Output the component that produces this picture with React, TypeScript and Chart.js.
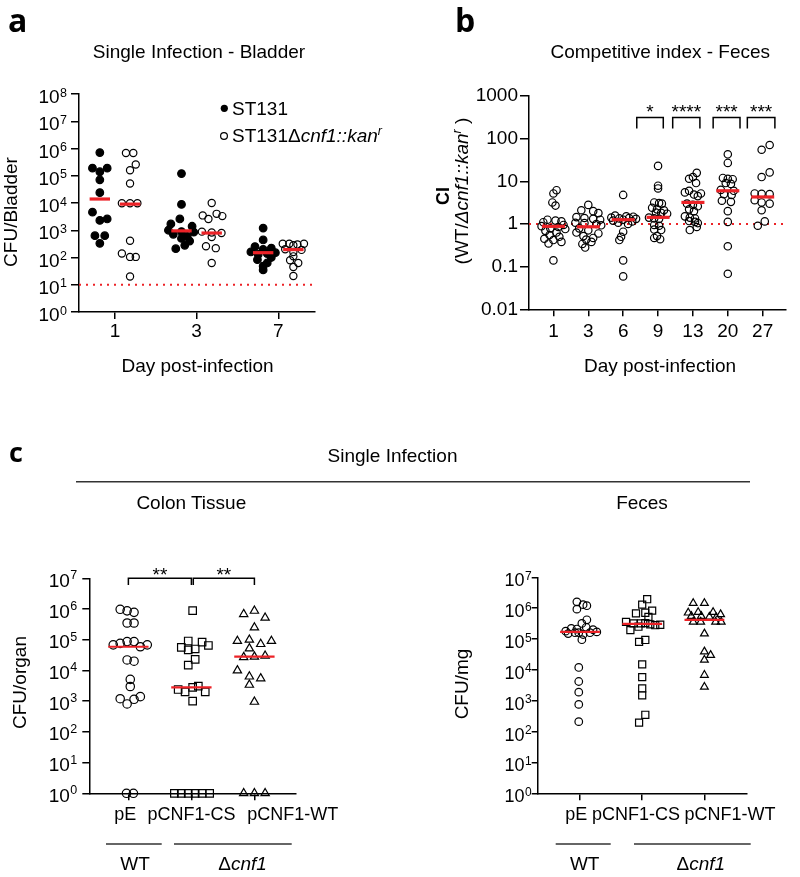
import React, { useEffect, useRef } from 'react';
import { Chart, registerables } from 'chart.js';
Chart.register(...registerables);

const FONT = "'Liberation Sans', Arial, Helvetica, sans-serif";
const RED = '#ec2227';

// ---------------- Panel a : Single Infection - Bladder ----------------
const aDayLabels = ['1', '3', '7'];
const aST131Day1 = [7.1e5, 1.9e5, 1.9e5, 1.4e5, 7.1e4, 2.4e4, 4.6e3, 2.6e3, 2.3e3, 630, 630, 330];
const aST131Day1Jit = [0, -0.09, 0.09, 0, 0, 0, -0.09, 0.09, 0, -0.06, 0.06, 0];
const aST131Day3 = [1.2e5, 8.9e3, 2.6e3, 1.7e3, 1.4e3, 1000, 890, 850, 710, 600, 500, 400, 280, 210];
const aST131Day3Jit = [0, 0, -0.02, -0.13, 0.13, -0.16, 0, 0.15, -0.1, 0.07, 0, 0.1, 0.04, -0.07];
const aST131Day7 = [1200, 440, 250, 220, 200, 160, 150, 140, 130, 100, 83, 63, 48, 35];
const aST131Day7Jit = [0, 0, -0.1, 0.1, 0, -0.15, 0.15, 0.05, -0.06, 0.1, -0.07, 0.05, 0, 0];
const aMutDay1 = [6.8e5, 6.8e5, 2.6e5, 1.6e5, 5.2e4, 9.8e3, 9.8e3, 9.8e3, 410, 140, 105, 105, 20];
const aMutDay1Jit = [-0.05, 0.04, 0.07, 0, 0, -0.1, 0, 0.09, 0, -0.1, 0, 0.07, 0];
const aMutDay3 = [1e4, 4e3, 3.5e3, 3.3e3, 2.6e3, 890, 830, 790, 560, 260, 220, 63];
const aMutDay3Jit = [0, 0.06, -0.11, 0.13, -0.04, -0.12, 0, 0.12, 0, -0.07, 0.05, 0];
const aMutDay7 = [320, 320, 300, 320, 280, 200, 190, 160, 110, 79, 63, 45, 21];
const aMutDay7Jit = [-0.13, -0.05, 0.05, 0.13, 0, -0.1, 0.1, 0, 0, -0.04, 0.06, 0, 0];
const aST131Medians = [1.4e4, 950, 150];
const aMutMedians = [9.1e3, 790, 195];
const aDetectionLimit = 10;

// ---------------- Panel b : Competitive index - Feces ----------------
const bDayLabels = ['1', '3', '6', '9', '13', '20', '27'];
const bYTickLabels = ['0.01', '0.1', '1', '10', '100', '1000'];
const bDay1 = [6.2, 5.2, 3.2, 2.7, 1.26, 1.2, 1.15, 1.1, 0.95, 0.89, 0.85, 0.79, 0.76, 0.69, 0.63, 0.55, 0.5, 0.45, 0.42, 0.38, 0.35, 0.14];
const bDay1Jit = [0.09, 0, -0.03, 0.06, -0.17, 0.06, 0.23, -0.29, 0.29, -0.34, 0.14, -0.09, 0.34, -0.23, 0.09, -0.11, 0.17, -0.26, 0, 0.23, -0.14, 0];
const bDay3 = [2.8, 2.1, 2.0, 1.8, 1.45, 1.38, 1.32, 1.26, 1.07, 1.05, 1.0, 0.93, 0.79, 0.71, 0.63, 0.6, 0.52, 0.47, 0.43, 0.38, 0.34, 0.28];
const bDay3Jit = [0, -0.2, 0.14, 0.29, -0.34, -0.11, 0.14, 0.34, -0.37, -0.11, 0.23, 0.37, -0.26, 0, -0.34, 0.29, -0.14, 0.14, -0.06, 0.09, -0.17, -0.09];
const bDay6 = [4.8, 1.58, 1.51, 1.48, 1.41, 1.38, 1.35, 1.32, 1.26, 1.2, 1.15, 1.07, 1.0, 0.66, 0.5, 0.42, 0.14, 0.059];
const bDay6Jit = [0, -0.23, 0.09, 0.29, -0.34, 0.17, -0.11, 0.37, 0, -0.29, 0.26, -0.14, 0.14, 0, -0.06, -0.11, 0, 0];
const bDay9 = [23, 7.9, 6.8, 3.2, 3.1, 3.0, 2.4, 2.2, 2.1, 1.86, 1.82, 1.74, 1.41, 1.35, 1.32, 0.95, 0.91, 0.74, 0.72, 0.52, 0.47, 0.44];
const bDay9Jit = [0, 0, 0, -0.11, 0.03, 0.11, -0.17, -0.03, 0.17, -0.06, 0.09, 0.26, -0.26, -0.11, 0.03, -0.11, 0.03, -0.11, 0.09, -0.03, -0.11, 0.06];
const bDay13 = [15.8, 12.6, 11.5, 9.1, 6.0, 5.5, 5.2, 4.9, 4.5, 3.0, 2.8, 2.6, 2.2, 2.0, 1.51, 1.41, 1.35, 1.17, 1.12, 1.05, 0.85, 0.72];
const bDay13Jit = [0.11, 0, -0.11, 0.09, -0.11, -0.23, 0.23, 0.03, 0.14, -0.17, 0, 0.14, -0.11, 0.03, -0.23, -0.09, 0.06, -0.11, 0.06, 0.14, 0.11, -0.09];
const bDay20 = [43, 27, 12, 11.5, 11.2, 9.1, 8.7, 6.3, 6.0, 5.0, 4.8, 3.5, 3.3, 2.0, 1.12, 0.3, 0.068];
const bDay20Jit = [0, 0, -0.14, 0, 0.14, -0.06, 0.09, -0.2, 0.17, -0.11, 0.11, -0.17, 0.09, 0, 0, 0, 0];
const bDay27 = [71, 55, 16.2, 12.6, 5.2, 5.1, 5.0, 3.6, 3.2, 3.0, 2.1, 1.15, 0.91];
const bDay27Jit = [0.2, -0.03, 0.2, -0.03, -0.23, -0.03, 0.2, -0.23, -0.03, 0.2, -0.03, 0.06, -0.14];
const bMedians = [0.88, 0.86, 1.26, 1.43, 3.2, 6.0, 4.3];
const bSigLabels = ['*', '****', '***', '***'];
const bSigFrom = [2.39, 3.42, 4.58, 5.56];
const bSigTo = [3.15, 4.2, 5.35, 6.35];
const bSigTop = 313;
const bSigLeg = 173;
const bNeutral = 1;

// ---------------- Panel c : Single Infection ----------------
const cGroupLabels = ['pE', 'pCNF1-CS', 'pCNF1-WT'];
// Colon tissue (CFU/organ)
const colonPE = [9.8e5, 8.7e5, 7.8e5, 3.5e5, 3.5e5, 6.8e4, 7.6e4, 8.7e4, 8.7e4, 5.9e4, 6.8e4, 2.2e4, 2.0e4, 5.1e3, 3.0e3, 1.2e3, 810, 1.15e3, 1.4e3, 1, 1];
const colonPEJit = [-0.13, -0.02, 0.09, -0.02, 0.09, -0.24, -0.13, -0.02, 0.09, 0.19, 0.3, -0.02, 0.09, 0.03, 0.03, -0.13, -0.02, 0.09, 0.19, -0.03, 0.08];
const colonCS = [8.9e5, 9.1e4, 8.3e4, 6.5e4, 5.6e4, 4.7e4, 5.0e4, 2.3e4, 1.5e4, 2.4e3, 2.0e3, 2.8e3, 3.1e3, 2.0e3, 1.0e3, 1, 1, 1, 1, 1, 1];
const colonCSJit = [0.02, -0.05, 0.17, 0.27, -0.16, -0.05, 0.06, 0.06, -0.05, -0.21, -0.1, 0.02, 0.11, 0.22, 0.02, -0.27, -0.16, -0.05, 0.06, 0.17, 0.29];
const colonWT = [6.8e5, 8.7e5, 5.2e5, 2.5e5, 9.1e4, 1.0e5, 7.2e4, 9.1e4, 5.2e4, 2.7e4, 2.8e4, 3.0e4, 1.0e4, 6.3e3, 5.5e3, 3.4e3, 950, 1, 1, 1];
const colonWTJit = [-0.17, 0, 0.17, 0, -0.27, -0.08, 0.1, 0.27, -0.08, -0.17, 0, 0.17, -0.27, -0.08, 0.1, -0.08, 0, -0.17, 0, 0.17];
const colonMedians = [5.9e4, 2.8e3, 2.8e4];
// Feces (CFU/mg)
const fecesPE = [1.6e6, 1.3e6, 1.2e6, 9.3e5, 4.2e5, 3.2e5, 2.4e5, 2.1e5, 2.2e5, 2.0e5, 1.8e5, 1.6e5, 1.4e5, 1.6e5, 1.7e5, 1.5e5, 1.6e5, 9.5e4, 1.2e4, 4.2e3, 1.9e3, 760, 210];
const fecesPEJit = [-0.05, 0.05, 0.11, -0.05, 0.11, 0.03, 0.1, -0.05, -0.14, 0.21, -0.23, -0.08, 0.05, 0.16, 0.27, -0.19, -0.02, 0.03, -0.02, -0.02, -0.02, -0.02, -0.02];
const fecesCS = [1.95e6, 1.3e6, 8.3e5, 7.1e5, 6.8e5, 5.2e5, 3.6e5, 3.2e5, 3.2e5, 3.0e5, 2.9e5, 3.3e5, 2.8e5, 1.95e5, 2.5e5, 9.3e4, 8.1e4, 1.5e4, 5.8e3, 2.5e3, 1.5e3, 350, 195];
const fecesCSJit = [0.08, 0, 0.16, 0.05, -0.1, 0.1, -0.26, -0.14, -0.02, 0.13, 0.29, 0.05, 0.21, -0.19, -0.06, 0.05, -0.05, 0, 0, 0, 0, 0.05, -0.05];
const fecesWT = [1.45e6, 1.45e6, 7.1e5, 7.4e5, 7.4e5, 6.3e5, 5.5e5, 5.5e5, 5.2e5, 5.0e5, 3.6e5, 3.6e5, 3.6e5, 3.6e5, 1.5e5, 3.9e4, 3.0e4, 2.1e4, 6.8e3, 2.8e3];
const fecesWTJit = [-0.18, 0, -0.26, -0.1, 0.14, 0.26, -0.21, -0.05, 0.08, 0.19, -0.18, -0.06, 0.18, 0.27, 0, 0, 0.1, 0, 0, 0];
const fecesMedians = [1.7e5, 3.1e5, 4.2e5];

// ---------------- plugins ----------------
const powTicks = {
  id: 'powTicks',
  afterDraw(chart: any, _a: any, o: any) {
    if (!o || !o.enabled) return;
    const ctx = chart.ctx;
    const ys = chart.scales.y;
    const ax = chart.chartArea.left;
    ctx.save();
    ctx.fillStyle = '#000';
    ctx.textAlign = 'right';
    ctx.textBaseline = 'alphabetic';
    for (let k = o.minExp; k <= o.maxExp; k++) {
      const py = ys.getPixelForValue(Math.pow(10, k));
      ctx.font = `${o.expSize}px ${FONT}`;
      const e = String(k);
      const ew = ctx.measureText(e).width;
      ctx.fillText(e, ax - o.gap, py + o.expDy);
      ctx.font = `${o.baseSize}px ${FONT}`;
      ctx.fillText('10', ax - o.gap - ew - 0.5, py + o.baseDy);
    }
    ctx.restore();
  },
};

const brackets = {
  id: 'brackets',
  afterDraw(chart: any, _a: any, o: any) {
    if (!o || !o.items) return;
    const ctx = chart.ctx;
    const xs = chart.scales.x;
    const ys = chart.scales.y;
    ctx.save();
    ctx.strokeStyle = '#000';
    ctx.fillStyle = '#000';
    ctx.lineWidth = 1.5;
    ctx.font = `${o.size}px ${FONT}`;
    ctx.textAlign = 'center';
    ctx.textBaseline = 'alphabetic';
    for (const b of o.items) {
      const x1 = xs.getPixelForValue(b.x1);
      const x2 = xs.getPixelForValue(b.x2);
      const yt = ys.getPixelForValue(b.top);
      const yb = ys.getPixelForValue(b.leg);
      ctx.beginPath();
      ctx.moveTo(x1, yb);
      ctx.lineTo(x1, yt);
      ctx.lineTo(x2, yt);
      ctx.lineTo(x2, yb);
      ctx.stroke();
      ctx.fillText(b.label, (x1 + x2) / 2, yt + o.starDy);
    }
    ctx.restore();
  },
};

const catLabels = {
  id: 'catLabels',
  afterDraw(chart: any, _a: any, o: any) {
    if (!o || !o.labels) return;
    const ctx = chart.ctx;
    const xs = chart.scales.x;
    ctx.save();
    ctx.fillStyle = '#000';
    ctx.font = `${o.size}px ${FONT}`;
    ctx.textAlign = 'center';
    ctx.textBaseline = 'alphabetic';
    o.labels.forEach((l: string, i: number) => {
      ctx.fillText(l, xs.getPixelForValue(o.pos[i]), chart.chartArea.bottom + o.dy);
    });
    ctx.restore();
  },
};

// ---------------- helpers ----------------
function cluster(vals: number[], jit: number[], center: number) {
  return vals.map((v, i) => ({ x: center + jit[i], y: v }));
}
function medianLines(meds: number[], centers: number[], half: number, width: number) {
  return meds.map((m, i) => ({
    data: [{ x: centers[i] - half, y: m }, { x: centers[i] + half, y: m }],
    showLine: true, borderColor: RED, backgroundColor: RED, borderWidth: width,
    pointRadius: 0, clip: false,
  }));
}
function refLine(xmin: number, xmax: number, y: number) {
  return {
    data: [{ x: xmin, y }, { x: xmax, y }],
    showLine: true, borderColor: RED, borderWidth: 2, borderDash: [2, 5],
    pointRadius: 0, clip: false,
  };
}
function pointSet(data: any[], style: string, r: number, filled: boolean) {
  return {
    data, showLine: false, pointStyle: style, pointRadius: r,
    pointBackgroundColor: filled ? '#000' : 'rgba(0,0,0,0)',
    pointBorderColor: '#000', pointBorderWidth: 1.2, clip: false,
  };
}

function makeOptions(p: any) {
  return {
    responsive: false,
    animation: false,
    events: [],
    layout: { padding: { top: p.padTop, right: p.padRight, left: 0, bottom: 0 } },
    plugins: Object.assign({ legend: { display: false }, tooltip: { enabled: false } }, p.plugins),
    scales: {
      x: {
        type: 'linear', min: p.xmin, max: p.xmax,
        afterBuildTicks: (s: any) => { s.ticks = p.xLabels.map((_: any, i: number) => ({ value: i })); },
        afterFit: (s: any) => { s.height = p.xHeight; },
        ticks: {
          display: true, autoSkip: false, maxRotation: 0, padding: p.xPad, color: '#000',
          font: { family: FONT, size: 19 },
          callback: (_v: any, i: number) => (p.showXLabels ? p.xLabels[i] : ''),
        },
        grid: { display: true, drawOnChartArea: false, drawTicks: true, tickLength: p.xTickLen, color: '#000', lineWidth: 1.5 },
        border: { display: true, color: '#000', width: 1.5 },
      },
      y: {
        type: 'logarithmic', min: p.ymin, max: p.ymax,
        afterBuildTicks: (s: any) => { s.ticks = p.yTicks.map((v: number) => ({ value: v })); },
        afterFit: (s: any) => { s.width = p.yWidth; },
        ticks: {
          display: true, padding: 2, color: '#000', font: { family: FONT, size: 19 },
          callback: (v: any, i: number) => (p.yLabels ? p.yLabels[i] : ''),
        },
        grid: { display: true, drawOnChartArea: false, drawTicks: true, tickLength: p.yTickLen, color: '#000', lineWidth: 1.5 },
        border: { display: true, color: '#000', width: 1.5 },
      },
    },
  };
}

const decades = (a: number, b: number) => {
  const r: number[] = [];
  for (let k = a; k <= b; k++) r.push(Math.pow(10, k));
  return r;
};

// ---------------- configs ----------------
function configA() {
  const shift = 0.185;
  const st = [aST131Day1, aST131Day3, aST131Day7];
  const stJ = [aST131Day1Jit, aST131Day3Jit, aST131Day7Jit];
  const mu = [aMutDay1, aMutDay3, aMutDay7];
  const muJ = [aMutDay1Jit, aMutDay3Jit, aMutDay7Jit];
  const stPts = st.flatMap((v, d) => cluster(v, stJ[d], d - shift));
  const muPts = mu.flatMap((v, d) => cluster(v, muJ[d], d + shift));
  const xmin = -0.44, xmax = 2.45;
  return {
    type: 'scatter',
    data: {
      datasets: [
        ...medianLines(aST131Medians, [0, 1, 2].map((c) => c - shift), 0.125, 3.2),
        ...medianLines(aMutMedians, [0, 1, 2].map((c) => c + shift), 0.125, 3.2),
        pointSet(stPts, 'circle', 3.8, true),
        pointSet(muPts, 'circle', 3.6, false),
        refLine(xmin, xmax, aDetectionLimit),
      ],
    },
    options: makeOptions({
      padTop: 94, padRight: 25, xHeight: 33, yWidth: 79, xmin, xmax, ymin: 1, ymax: 1e8,
      xLabels: aDayLabels, showXLabels: true, xPad: 1, xTickLen: 7, yTickLen: 8,
      yTicks: decades(0, 8),
      plugins: { powTicks: { enabled: true, minExp: 0, maxExp: 8, gap: 12, baseSize: 19, expSize: 12.5, baseDy: 9, expDy: 2.5 } },
    }),
    plugins: [powTicks],
  };
}

function configB() {
  const days = [bDay1, bDay3, bDay6, bDay9, bDay13, bDay20, bDay27];
  const jits = [bDay1Jit, bDay3Jit, bDay6Jit, bDay9Jit, bDay13Jit, bDay20Jit, bDay27Jit];
  const pts = days.flatMap((v, d) => cluster(v, jits[d], d));
  const xmin = -0.7, xmax = 6.66;
  return {
    type: 'scatter',
    data: {
      datasets: [
        ...medianLines(bMedians, bDayLabels.map((_, i) => i), 0.33, 3.2),
        pointSet(pts, 'circle', 3.7, false),
        refLine(xmin, xmax, bNeutral),
      ],
    },
    options: makeOptions({
      padTop: 96, padRight: 14.3, xHeight: 35.7, yWidth: 129, xmin, xmax, ymin: 0.01, ymax: 1000,
      xLabels: bDayLabels, showXLabels: true, xPad: 4, xTickLen: 7, yTickLen: 9,
      yTicks: bYTickLabels.map(parseFloat), yLabels: bYTickLabels,
      plugins: {
        brackets: {
          size: 19, starDy: 0.7,
          items: bSigLabels.map((l, i) => ({ label: l, x1: bSigFrom[i], x2: bSigTo[i], top: bSigTop, leg: bSigLeg })),
        },
      },
    }),
    plugins: [brackets],
  };
}

function configC(kind: 'colon' | 'feces') {
  const colon = kind === 'colon';
  const pe = colon ? cluster(colonPE, colonPEJit, 0) : cluster(fecesPE, fecesPEJit, 0);
  const cs = colon ? cluster(colonCS, colonCSJit, 1) : cluster(fecesCS, fecesCSJit, 1);
  const wt = colon ? cluster(colonWT, colonWTJit, 2) : cluster(fecesWT, fecesWTJit, 2);
  const meds = colon ? colonMedians : fecesMedians;
  const xmin = colon ? -0.62 : -0.68;
  const xmax = colon ? 2.66 : 2.68;
  const plugins: any = {
    powTicks: colon
      ? { enabled: true, minExp: 0, maxExp: 7, gap: 12, baseSize: 19, expSize: 12.5, baseDy: 8.5, expDy: 1 }
      : { enabled: true, minExp: 0, maxExp: 7, gap: 6, baseSize: 18, expSize: 12, baseDy: 9, expDy: 2.5 },
    catLabels: { labels: cGroupLabels, pos: colon ? [-0.05, 1.0, 2.61] : [-0.06, 0.9, 2.41], dy: 26.7, size: 18 },
  };
  if (colon) {
    plugins.brackets = {
      size: 19, starDy: 3,
      items: [
        { label: '**', x1: 0, x2: 1, top: 1e7, leg: 6e6 },
        { label: '**', x1: 1.03, x2: 2, top: 1e7, leg: 6e6 },
      ],
    };
  }
  return {
    type: 'scatter',
    data: {
      datasets: [
        ...medianLines(meds, [0, 1, 2], 0.32, 2.2),
        pointSet(pe, 'circle', colon ? 4.2 : 3.8, false),
        pointSet(cs, 'rect', colon ? 5.3 : 5.0, false),
        pointSet(wt, 'triangle', colon ? 4.8 : 4.5, false),
      ],
    },
    options: makeOptions({
      padTop: colon ? 38.3 : 37.3, padRight: colon ? 64 : 53.3, xHeight: 46.7, yWidth: colon ? 89.3 : 137.7,
      xmin, xmax, ymin: 1, ymax: 1e7,
      xLabels: cGroupLabels, showXLabels: false, xPad: 1, xTickLen: 7, yTickLen: colon ? 7 : 6,
      yTicks: decades(0, 7),
      plugins,
    }),
    plugins: colon ? [powTicks, catLabels, brackets] : [powTicks, catLabels],
  };
}

function ChartBox(props: { left: number; top: number; width: number; height: number; make: () => any }) {
  const ref = useRef<HTMLCanvasElement>(null);
  useEffect(() => {
    const chart = new Chart(ref.current as any, props.make());
    return () => chart.destroy();
  }, []);
  return (
    <div style={{ position: 'absolute', left: props.left, top: props.top, width: props.width, height: props.height }}>
      <canvas ref={ref} width={props.width} height={props.height} style={{ width: props.width, height: props.height, display: 'block' }} />
    </div>
  );
}

export default function App() {
  const t = { fontFamily: FONT, fill: '#000' } as any;
  const letter = { fontFamily: "'Open Sans', 'Liberation Sans', sans-serif", fontWeight: 700, fill: '#000' } as any;
  return (
    <div style={{ position: 'absolute', left: 0, top: 0, width: 800, height: 877, background: '#fff', overflow: 'hidden' }}>
      <ChartBox left={0} top={0} width={340} height={345} make={configA} />
      <ChartBox left={400} top={0} width={400} height={345} make={configB} />
      <ChartBox left={0} top={540} width={360} height={300} make={() => configC('colon')} />
      <ChartBox left={400} top={540} width={400} height={300} make={() => configC('feces')} />
      <svg width={800} height={877} style={{ position: 'absolute', left: 0, top: 0, pointerEvents: 'none' }}>
        {/* panel letters */}
        <text x={8} y={32} fontSize={32} {...letter}>a</text>
        <text x={455} y={32} fontSize={32} {...letter}>b</text>
        <text x={9} y={462} fontSize={27} {...letter}>c</text>

        {/* panel a */}
        <text x={199} y={58.3} fontSize={19} textAnchor="middle" {...t}>Single Infection - Bladder</text>
        <text x={197.5} y={371.7} fontSize={19} textAnchor="middle" {...t}>Day post-infection</text>
        <text transform="translate(17.3,212) rotate(-90)" fontSize={19} textAnchor="middle" {...t}>CFU/Bladder</text>
        <circle cx={224.3} cy={108.3} r={3.6} fill="#000" />
        <text x={232} y={115} fontSize={19} {...t}>ST131</text>
        <circle cx={224} cy={136} r={3.4} fill="none" stroke="#000" strokeWidth={1.2} />
        <text x={232} y={141.7} fontSize={19} {...t}>
          ST131Δ<tspan fontStyle="italic">cnf1::kan</tspan>
          <tspan fontStyle="italic" fontSize={12.5} dy={-7}>r</tspan>
        </text>

        {/* panel b */}
        <text x={660.3} y={58.3} fontSize={19} textAnchor="middle" {...t}>Competitive index - Feces</text>
        <text x={660} y={371.7} fontSize={19} textAnchor="middle" {...t}>Day post-infection</text>
        <text transform="translate(449,196) rotate(-90)" fontSize={18} fontWeight={700} textAnchor="middle" {...t}>CI</text>
        <text transform="translate(468,191) rotate(-90)" fontSize={19} textAnchor="middle" {...t}>
          (WT/<tspan fontStyle="italic">Δcnf1::kan</tspan>
          <tspan fontStyle="italic" fontSize={12.5} dy={-7}>r</tspan>
          <tspan dy={7}> )</tspan>
        </text>

        {/* panel c headers */}
        <text x={392.5} y={461.7} fontSize={19} textAnchor="middle" {...t}>Single Infection</text>
        <line x1={76} y1={481.7} x2={750} y2={481.7} stroke="#333" strokeWidth={1.4} />
        <text x={191.3} y={509.3} fontSize={19} textAnchor="middle" {...t}>Colon Tissue</text>
        <text x={642} y={509.3} fontSize={19} textAnchor="middle" {...t}>Feces</text>

        {/* c-left axis title and groups */}
        <text transform="translate(26,682.5) rotate(-90)" fontSize={19} textAnchor="middle" {...t}>CFU/organ</text>
        <line x1={106} y1={844} x2={161.7} y2={844} stroke="#333" strokeWidth={1.3} />
        <line x1={174} y1={844} x2={291.7} y2={844} stroke="#333" strokeWidth={1.3} />
        <text x={135} y={870} fontSize={19} textAnchor="middle" {...t}>WT</text>
        <text x={242.5} y={870} fontSize={19} textAnchor="middle" {...t}>Δ<tspan fontStyle="italic">cnf1</tspan></text>

        {/* c-right axis title and groups */}
        <text transform="translate(468,684) rotate(-90)" fontSize={19} textAnchor="middle" {...t}>CFU/mg</text>
        <line x1={555.7} y1={844} x2={610.7} y2={844} stroke="#333" strokeWidth={1.3} />
        <line x1={634} y1={844} x2={750.7} y2={844} stroke="#333" strokeWidth={1.3} />
        <text x={584.7} y={870} fontSize={19} textAnchor="middle" {...t}>WT</text>
        <text x={700.8} y={870} fontSize={19} textAnchor="middle" {...t}>Δ<tspan fontStyle="italic">cnf1</tspan></text>
      </svg>
    </div>
  );
}
